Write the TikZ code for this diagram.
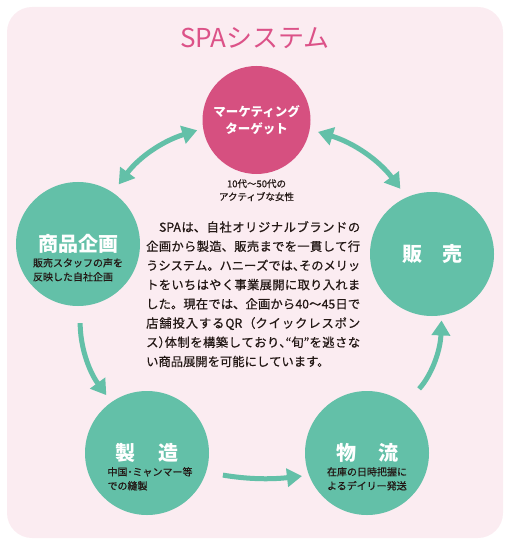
\documentclass[tikz,border=0pt]{standalone}
\usepackage{fontspec}
\setmainfont{Noto Sans CJK JP}
\usetikzlibrary{arrows.meta, positioning}

\definecolor{spabg}{RGB}{251,236,241}
\definecolor{spapink}{RGB}{214,80,128}
\definecolor{spatitle}{RGB}{220,82,136}
\definecolor{spateal}{RGB}{99,192,168}
\definecolor{spatext}{RGB}{35,24,21}

% half-width punctuation
\newcommand{\hw}[1]{{\addfontfeature{RawFeature=+halt}#1}}
% stretchable gaps between Japanese characters
\newcommand{\jabreak}{\XeTeXlinebreaklocale "ja"\XeTeXlinebreakskip=0pt plus 2pt minus 0.4pt\relax}
% a little heavier than regular
\newcommand{\medium}{\addfontfeature{FakeBold=0.6}}

\begin{document}
\begin{tikzpicture}[x=1bp, y=1bp,
    stage/.style={circle, fill=spateal, minimum size=124bp, inner sep=0pt,
                  text=white, font=\fontsize{20bp}{24bp}\selectfont\bfseries},
    sub/.style={inner sep=0pt, align=left, text=spatext,
                font=\fontsize{10bp}{14bp}\selectfont\medium},
    arrow/.style={-{Triangle[length=15bp, width=18bp]}, line width=5bp, spateal},
    twoway/.style={{Triangle[length=15bp, width=18bp]}-{Triangle[length=15bp, width=18bp]},
                   line width=5bp, spateal}
  ]
  \useasboundingbox (0,0) rectangle (510,-546);
  \fill[spabg, rounded corners=25bp] (7,-7) rectangle (503,-538);

  \node[text=spatitle, font=\fontsize{26bp}{30bp}\selectfont] (title) at (255,-38) {SPAシステム};

  \node[circle, fill=spapink, minimum size=108bp, inner sep=0pt, text=white, align=center,
        font=\fontsize{12.5bp}{16.5bp}\selectfont\bfseries] (target) at (256.5,-120)
    {マーケティング\\ターゲット};
  \node[sub, align=center, font=\fontsize{9.5bp}{13bp}\selectfont\medium, below=5bp of target] (targetsub)
    {10代～50代の\\アクティブな女性};

  \node[stage] (plan) at (78,-244) {商品企画};
  \node[sub, below=14bp of plan.center] (plansub) {販売スタッフの声を\\反映した自社企画};
  \node[stage] (sale) at (432,-254) {販\hspace{1em}売};
  \node[stage] (make) at (147,-453) {製\hspace{1.2em}造};
  \node[sub, below=14bp of make.center, xshift=3bp] (makesub) {中国\hw{・}ミャンマー等\\での縫製};
  \node[stage] (ship) at (367,-453) {物\hspace{1.1em}流};
  \node[sub, below=14bp of ship.center] (shipsub) {在庫の日時把握に\\よるデイリー発送};

  \node[anchor=north west, inner sep=0pt, text width=214bp, align=justify, text=spatext,
        font=\fontsize{12.3bp}{19.2bp}\selectfont\medium\jabreak] (body) at (146,-221)
    {　SPAは、自社オリジナルブランドの\linebreak%
企画から製造、販売までを一貫して行\linebreak%
うシステム。ハニーズでは\hw{、}そのメリッ\linebreak%
トをいちはやく事業展開に取り入れま\linebreak%
した。現在では、企画から40～45日で\linebreak%
店舗投入するQR（クイックレスポン\linebreak%
ス\hw{）}体制を構築しており\hw{、“}旬\hw{”}を逃さな\linebreak%
い商品展開を可能にしています。};

  \draw[twoway, shorten <=10bp, shorten >=6bp] (plan.56) to[bend left=18] (target.189);
  \draw[twoway, shorten <=8.5bp, shorten >=10.5bp] (target.350) to[bend left=18] (sale.114);
  \draw[arrow, shorten <=17bp, shorten >=8.5bp] (plan.272) to[bend right=18] (make.125);
  \draw[arrow, shorten <=17bp, shorten >=7bp] (make.342) to[bend right=8] (ship.201);
  \draw[arrow, shorten <=20.5bp, shorten >=5bp] (ship.52) to[bend right=20] (sale.279);
\end{tikzpicture}
\end{document}
